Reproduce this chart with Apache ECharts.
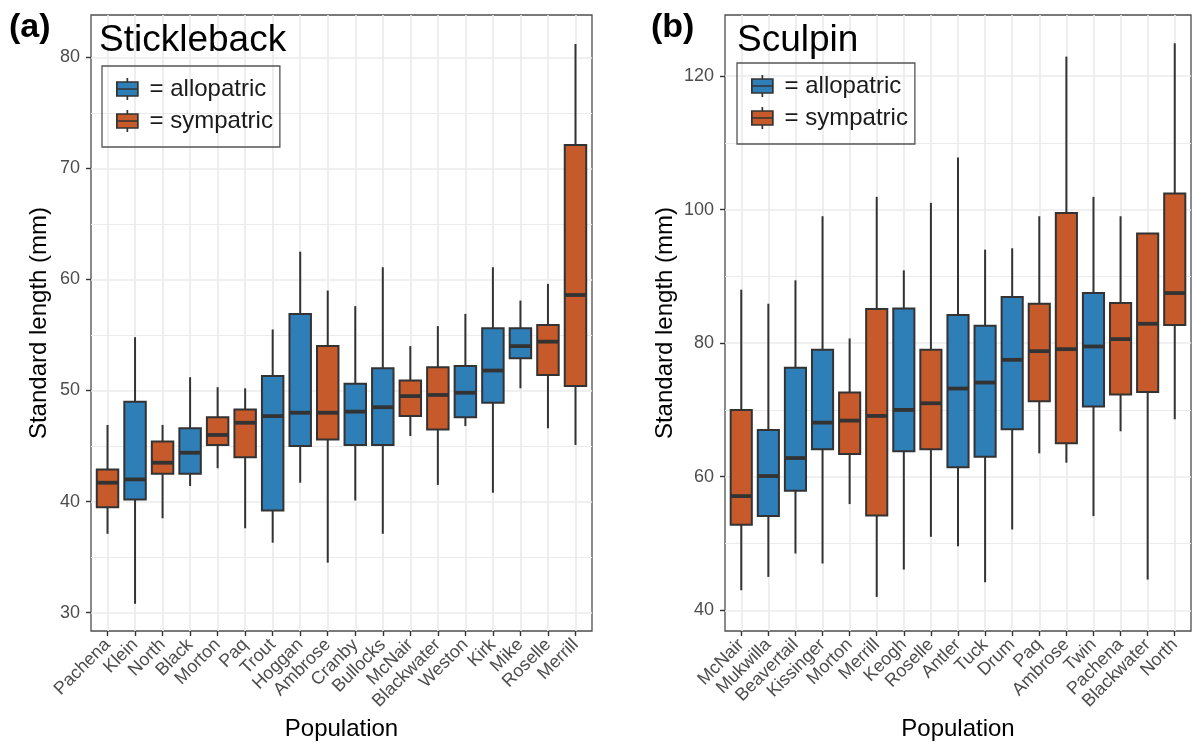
<!DOCTYPE HTML>
<html>
<head>
<meta charset="UTF-8">
<title>Standard length by population</title>
<script src="https://cdn.jsdelivr.net/npm/echarts@6.0.0/dist/echarts.min.js"></script>
<style>
    html, body { margin: 0; padding: 0; background: #fff; }
    #main { width: 1194px; height: 756px; }
</style>
</head>
<body>
<div id="main"></div>
<script>
    // (a) stickleback: populations, habitat (a = allopatric, s = sympatric)
    var fishA = ['Pachena', 'Klein', 'North', 'Black', 'Morton', 'Paq', 'Trout', 'Hoggan', 'Ambrose',
        'Cranby', 'Bullocks', 'McNair', 'Blackwater', 'Weston', 'Kirk', 'Mike', 'Roselle', 'Merrill'];
    var typeA = ['s', 'a', 's', 'a', 's', 's', 'a', 'a', 's', 'a', 'a', 's', 's', 'a', 'a', 'a', 's', 's'];
    // [lower whisker, Q1, median, Q3, upper whisker]
    var statsA = [
        [37.1, 39.5, 41.7, 42.9, 46.9],
        [30.8, 40.2, 42.0, 49.0, 54.8],
        [38.5, 42.5, 43.5, 45.4, 46.9],
        [41.4, 42.5, 44.4, 46.6, 51.2],
        [43.0, 45.1, 46.0, 47.6, 50.3],
        [37.6, 44.0, 47.1, 48.3, 50.2],
        [36.3, 39.2, 47.7, 51.3, 55.5],
        [41.7, 45.0, 48.0, 56.9, 62.5],
        [34.5, 45.6, 48.0, 54.0, 59.0],
        [40.1, 45.1, 48.1, 50.6, 57.6],
        [37.1, 45.1, 48.5, 52.0, 61.1],
        [45.9, 47.7, 49.5, 50.9, 54.0],
        [41.5, 46.5, 49.6, 52.1, 55.8],
        [46.8, 47.6, 49.8, 52.2, 56.9],
        [40.8, 48.9, 51.8, 55.6, 61.1],
        [50.2, 52.9, 54.0, 55.6, 58.1],
        [46.6, 51.4, 54.4, 55.9, 59.6],
        [45.1, 50.4, 58.6, 72.1, 81.2]
    ];
    var yMajorA = [30, 40, 50, 60, 70, 80];
    var yMinorA = [35, 45, 55, 65, 75];

    // (b) sculpin
    var fishB = ['McNair', 'Mukwilla', 'Beavertail', 'Kissinger', 'Morton', 'Merrill', 'Keogh', 'Roselle',
        'Antler', 'Tuck', 'Drum', 'Paq', 'Ambrose', 'Twin', 'Pachena', 'Blackwater', 'North'];
    var typeB = ['s', 'a', 'a', 'a', 's', 's', 'a', 's', 'a', 'a', 'a', 's', 's', 'a', 's', 's', 's'];
    var statsB = [
        [43.0, 52.8, 57.1, 70.0, 88.0],
        [45.0, 54.1, 60.1, 67.0, 85.9],
        [48.5, 57.9, 62.8, 76.3, 89.4],
        [47.0, 64.1, 68.1, 79.0, 99.0],
        [55.9, 63.4, 68.4, 72.6, 80.7],
        [42.0, 54.2, 69.1, 85.1, 101.9],
        [46.1, 63.8, 70.0, 85.2, 90.9],
        [51.0, 64.1, 71.0, 79.0, 101.0],
        [49.6, 61.4, 73.2, 84.2, 107.8],
        [44.2, 63.0, 74.1, 82.6, 94.0],
        [52.1, 67.1, 77.5, 86.9, 94.2],
        [63.5, 71.3, 78.8, 85.9, 99.0],
        [62.1, 65.0, 79.1, 99.5, 122.9],
        [54.1, 70.5, 79.5, 87.5, 101.9],
        [66.8, 72.3, 80.6, 86.0, 99.0],
        [44.6, 72.7, 82.9, 96.4, 96.4],
        [68.6, 82.7, 87.5, 102.4, 124.9]
    ];
    var yMajorB = [40, 60, 80, 100, 120];
    var yMinorB = [50, 70, 90, 110];

    var habitatNames = {a: 'allopatric', s: 'sympatric'};
    var habitatColors = {a: '#2E7EB7', s: '#C75A2A'};
    var ink = '#333333';
    var font = '"Liberation Sans", Arial, sans-serif';

    function boxData(stats, types) {
        return stats.map(function (row, i) {
            return {value: [i + 1].concat(row), itemStyle: {color: habitatColors[types[i]]}};
        });
    }
    function positions(names) {
        return names.map(function (n, i) { return i + 1; });
    }

    // whisker + box + thick median, like ggplot's geom_boxplot
    function drawBox(params, api) {
        var x = api.value(0);
        var lo = api.coord([x, api.value(1)]);
        var q1 = api.coord([x, api.value(2)]);
        var md = api.coord([x, api.value(3)]);
        var q3 = api.coord([x, api.value(4)]);
        var hi = api.coord([x, api.value(5)]);
        var half = api.size([0.78, 0])[0] / 2;
        return {
            type: 'group',
            children: [
                {type: 'line', shape: {x1: hi[0], y1: hi[1], x2: q3[0], y2: q3[1]}, style: {stroke: ink, lineWidth: 2}},
                {type: 'line', shape: {x1: q1[0], y1: q1[1], x2: lo[0], y2: lo[1]}, style: {stroke: ink, lineWidth: 2}},
                {type: 'rect', shape: {x: q3[0] - half, y: q3[1], width: half * 2, height: q1[1] - q3[1]},
                    style: {fill: api.visual('color'), stroke: ink, lineWidth: 2}},
                {type: 'line', shape: {x1: md[0] - half, y1: md[1], x2: md[0] + half, y2: md[1]}, style: {stroke: ink, lineWidth: 3.8}}
            ]
        };
    }

    // panel grid lines (theme_bw look)
    function gridLines(names, major, minor) {
        var lines = [];
        positions(names).forEach(function (p) {
            lines.push({xAxis: p, lineStyle: {width: 1.7}});
        });
        major.forEach(function (v) { lines.push({yAxis: v, lineStyle: {width: 1.7}}); });
        minor.forEach(function (v) { lines.push({yAxis: v, lineStyle: {width: 1.1}}); });
        return {
            silent: true, z: 1, symbol: ['none', 'none'], label: {show: false},
            lineStyle: {color: '#EBEBEB', type: 'solid'}, emphasis: {disabled: true},
            animation: false, data: lines
        };
    }

    function xAxisFor(idx, names) {
        var ticks = positions(names);
        return {
            gridIndex: idx, type: 'value', min: 0.4, max: names.length + 0.6,
            axisLine: {show: false}, splitLine: {show: false},
            axisTick: {customValues: ticks, length: 5, lineStyle: {color: ink, width: 1.4}},
            axisLabel: {
                customValues: ticks, rotate: 45, margin: 11, fontSize: 18, color: '#4D4D4D', fontFamily: font,
                formatter: function (v) { return names[Math.round(v) - 1]; }
            },
            name: 'Population', nameLocation: 'middle', nameGap: 72,
            nameTextStyle: {fontSize: 24, color: '#000', fontFamily: font}
        };
    }
    function yAxisFor(idx, min, max, major, gap) {
        return {
            gridIndex: idx, type: 'value', min: min, max: max,
            axisLine: {show: false}, splitLine: {show: false},
            axisTick: {customValues: major, length: 5, lineStyle: {color: ink, width: 1.4}},
            axisLabel: {customValues: major, margin: 11, fontSize: 18, color: '#4D4D4D', fontFamily: font},
            name: 'Standard length (mm)', nameLocation: 'middle', nameRotate: 90, nameGap: gap,
            nameTextStyle: {fontSize: 24, color: '#000', fontFamily: font}
        };
    }
    function legendFor(left, top) {
        return {
            left: left, top: top, orient: 'vertical', selectedMode: false,
            data: [habitatNames.a, habitatNames.s],
            icon: 'path://M10.5 0L10.5 4M0 4L21 4L21 18L0 18ZM0 11L21 11M10.5 18L10.5 22',
            itemWidth: 21, itemHeight: 22, itemGap: 8,
            itemStyle: {borderColor: ink, borderWidth: 1.7},
            padding: [11, 7, 14, 14],
            borderColor: '#555', borderWidth: 1.3,
            formatter: ' = {name}',
            textStyle: {fontSize: 24, color: '#1A1A1A', fontFamily: font}
        };
    }

    var myChart = echarts.init(document.getElementById('main'));
    var option = {
        animation: false,
        backgroundColor: '#fff',
        textStyle: {fontFamily: font},
        title: [
            {text: '(a)', left: 9, top: 11, padding: 0, textStyle: {fontSize: 34, fontWeight: 'bold', color: '#000', fontFamily: font}},
            {text: 'Stickleback', left: 99, top: 22, padding: 0, textStyle: {fontSize: 37, fontWeight: 'normal', color: '#000', fontFamily: font}},
            {text: '(b)', left: 651, top: 11, padding: 0, textStyle: {fontSize: 34, fontWeight: 'bold', color: '#000', fontFamily: font}},
            {text: 'Sculpin', left: 737, top: 22, padding: 0, textStyle: {fontSize: 37, fontWeight: 'normal', color: '#000', fontFamily: font}}
        ],
        legend: [legendFor(102, 66), legendFor(737, 63)],
        grid: [
            {left: 91, top: 15, width: 501, height: 616, show: true, borderColor: '#4D4D4D', borderWidth: 1.3, backgroundColor: 'transparent'},
            {left: 725, top: 15, width: 466, height: 616, show: true, borderColor: '#4D4D4D', borderWidth: 1.3, backgroundColor: 'transparent'}
        ],
        xAxis: [xAxisFor(0, fishA), xAxisFor(1, fishB)],
        yAxis: [yAxisFor(0, 28.35, 83.81, yMajorA, 40), yAxisFor(1, 36.9, 129.13, yMajorB, 48)],
        series: [
            {
                name: 'Stickleback', type: 'custom', xAxisIndex: 0, yAxisIndex: 0, z: 3,
                renderItem: drawBox, encode: {x: 0, y: [1, 2, 3, 4, 5]},
                data: boxData(statsA, typeA), markLine: gridLines(fishA, yMajorA, yMinorA)
            },
            {
                name: 'Sculpin', type: 'custom', xAxisIndex: 1, yAxisIndex: 1, z: 3,
                renderItem: drawBox, encode: {x: 0, y: [1, 2, 3, 4, 5]},
                data: boxData(statsB, typeB), markLine: gridLines(fishB, yMajorB, yMinorB)
            },
            // empty series, only there for the legend keys
            {name: habitatNames.a, type: 'bar', xAxisIndex: 0, yAxisIndex: 0, data: [], itemStyle: {color: habitatColors.a}},
            {name: habitatNames.s, type: 'bar', xAxisIndex: 0, yAxisIndex: 0, data: [], itemStyle: {color: habitatColors.s}}
        ]
    };
    myChart.setOption(option);
</script>
</body>
</html>
